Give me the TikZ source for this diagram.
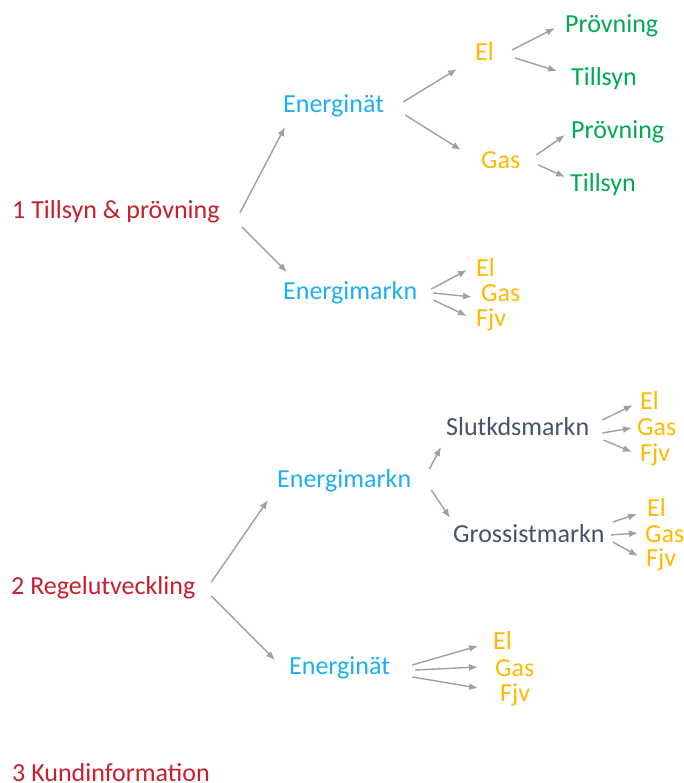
\documentclass[tikz,border=0pt]{standalone}
\usepackage{fontspec}
\setmainfont{Carlito}
\usepackage{tikz}
\usetikzlibrary{arrows.meta}
\definecolor{topic}{RGB}{200,30,45}
\definecolor{area}{RGB}{30,175,240}
\definecolor{fuel}{RGB}{255,185,0}
\definecolor{task}{RGB}{0,170,80}
\definecolor{market}{RGB}{68,84,106}
\definecolor{arrowgray}{RGB}{160,160,160}

\begin{document}
\begin{tikzpicture}[x=1pt, y=-1pt,
  lbl/.style={inner sep=0pt, anchor=west, font=\fontsize{26}{30}\selectfont},
  arr/.style={draw=arrowgray, line width=1.4pt, -{Latex[length=9pt,width=7pt]}}]
\useasboundingbox (0,0) rectangle (683,783);
% part 1
\node[lbl, topic] (t1) at (12,212) {1 Tillsyn \& prövning};
\node[lbl, area] (n1) at (283,106) {Energinät};
\node[lbl, fuel] (n1el) at (475,51) {El};
\node[lbl, task] (n1elp) at (565,26) {Prövning};
\node[lbl, task] (n1elt) at (571,79) {Tillsyn};
\node[lbl, fuel] (n1gas) at (481,160) {Gas};
\node[lbl, task] (n1gasp) at (571,132) {Prövning};
\node[lbl, task] (n1gast) at (570,185) {Tillsyn};
\node[lbl, area] (m1) at (283,293) {Energimarkn};
\node[lbl, fuel] (m1el) at (476,267) {El};
\node[lbl, fuel] (m1gas) at (481,293) {Gas};
\node[lbl, fuel] (m1fjv) at (476,320) {Fjv};
%
\draw[arr] ([xshift=20pt,yshift=-1pt]t1.east) -- ([xshift=2pt,yshift=-21pt]n1.west);
\draw[arr] ([xshift=22pt,yshift=-15pt]t1.east) -- ([xshift=4pt,yshift=21pt]m1.west);
\draw[arr] ([xshift=19pt,yshift=4pt]n1.east) -- ([xshift=-18pt,yshift=-18pt]n1el.west);
\draw[arr] ([xshift=21pt,yshift=-9pt]n1.east) -- ([xshift=-20pt,yshift=10pt]n1gas.west);
\draw[arr] ([xshift=18pt,yshift=1pt]n1el.east) -- ([xshift=-10pt,yshift=-2pt]n1elp.west);
\draw[arr] ([xshift=21pt,yshift=-7pt]n1el.east) -- ([xshift=-14pt,yshift=8pt]n1elt.west);
\draw[arr] ([xshift=16pt,yshift=5pt]n1gas.east) -- ([xshift=-6pt,yshift=-3pt]n1gasp.west);
\draw[arr] ([xshift=18pt,yshift=-5pt]n1gas.east) -- ([xshift=-5pt,yshift=8pt]n1gast.west);
\draw[arr] ([xshift=14pt,yshift=4pt]m1.east) -- ([xshift=-9pt,yshift=-3pt]m1el.west);
\draw[arr] ([xshift=16pt]m1.east) -- ([xshift=-9pt,yshift=-4pt]m1gas.west);
\draw[arr] ([xshift=16pt,yshift=-7pt]m1.east) -- ([xshift=-9pt,yshift=4pt]m1fjv.west);
% part 2
\node[lbl, topic] (t2) at (11,588) {2 Regelutveckling};
\node[lbl, area] (m2) at (277,481) {Energimarkn};
\node[lbl, market] (s2) at (446,427) {Slutkdsmarkn};
\node[lbl, fuel] (s2el) at (640,400) {El};
\node[lbl, fuel] (s2gas) at (637,427) {Gas};
\node[lbl, fuel] (s2fjv) at (640,455) {Fjv};
\node[lbl, market] (g2) at (453,534) {Grossistmarkn};
\node[lbl, fuel] (g2el) at (647,507) {El};
\node[lbl, fuel] (g2gas) at (645,534) {Gas};
\node[lbl, fuel] (g2fjv) at (646,560) {Fjv};
\node[lbl, area] (n2) at (289,668) {Energinät};
\node[lbl, fuel] (n2el) at (493,640) {El};
\node[lbl, fuel] (n2gas) at (495,668) {Gas};
\node[lbl, fuel] (n2fjv) at (500,695) {Fjv};
%
\draw[arr] ([xshift=16pt,yshift=6pt]t2.east) -- ([xshift=-9pt,yshift=-19pt]m2.west);
\draw[arr] ([xshift=16pt,yshift=-8pt]t2.east) -- ([xshift=-14pt,yshift=8pt]n2.west);
\draw[arr] ([xshift=18pt,yshift=12pt]m2.east) -- ([xshift=-5pt,yshift=-20pt]s2.west);
\draw[arr] ([xshift=20pt,yshift=-9pt]m2.east) -- ([xshift=-3pt,yshift=16pt]g2.west);
\draw[arr] ([xshift=13pt,yshift=7pt]s2.east) -- ([xshift=-7pt,yshift=-5pt]s2el.west);
\draw[arr] ([xshift=13pt,yshift=-6pt]s2.east) -- ([xshift=-5pt,yshift=-1pt]s2gas.west);
\draw[arr] ([xshift=14pt,yshift=-13pt]s2.east) -- ([xshift=-8pt,yshift=3pt]s2fjv.west);
\draw[arr] ([xshift=8pt,yshift=12pt]g2.east) -- ([xshift=-10pt,yshift=-7pt]g2el.west);
\draw[arr] ([xshift=6pt,yshift=-1pt]g2.east) -- ([xshift=-7pt,yshift=1pt]g2gas.west);
\draw[arr] ([xshift=8pt,yshift=-8pt]g2.east) -- ([xshift=-8pt,yshift=4pt]g2fjv.west);
\draw[arr] ([xshift=22pt,yshift=3pt]n2.east) -- ([xshift=-15pt,yshift=-6pt]n2el.west);
\draw[arr] ([xshift=25pt,yshift=-2pt]n2.east) -- ([xshift=-17pt,yshift=1pt]n2gas.west);
\draw[arr] ([xshift=22pt,yshift=-9pt]n2.east) -- ([xshift=-22pt,yshift=7pt]n2fjv.west);
% part 3
\node[lbl, topic] (t3) at (12,773) {3 Kundinformation};
\end{tikzpicture}
\end{document}
